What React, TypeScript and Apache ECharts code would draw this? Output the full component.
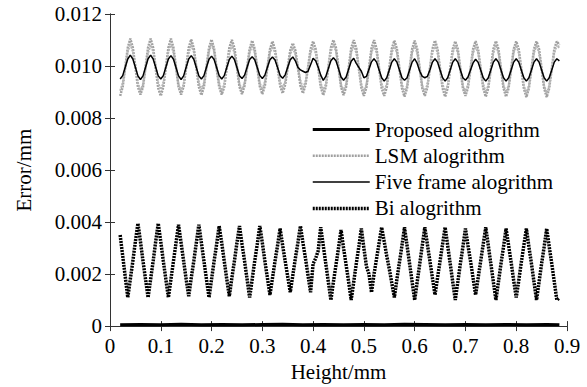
import React, { useEffect, useRef } from "react";
import * as echarts from "echarts";

// sample grid of the oscillating curves (mm)
const SAMPLE_START = 0.02;
const SAMPLE_STEP = 0.005;

// errors in micrometres (converted to mm for plotting)
const lsmUm = [
  8.85, 9.2, 9.95, 10.7, 11.05, 10.7, 9.95, 9.2,
  8.9, 9.2, 9.95, 10.72, 11.05, 10.7, 9.9, 9.15,
  8.85, 9.2, 9.95, 10.7, 11.05, 10.7, 9.95, 9.2,
  8.9, 9.22, 9.95, 10.7, 11.02, 10.68, 9.95, 9.2,
  8.88, 9.2, 9.95, 10.7, 11.02, 10.66, 9.9, 9.2,
  8.9, 9.2, 9.95, 10.7, 11.0, 10.7, 9.95, 9.2,
  8.92, 9.25, 9.95, 10.66, 10.98, 10.65, 9.95, 9.22,
  8.92, 9.25, 9.95, 10.64, 10.95, 10.62, 9.95, 9.25,
  8.95, 9.28, 9.95, 10.6, 10.88, 10.6, 9.95, 9.25,
  8.95, 9.28, 9.95, 10.65, 10.95, 10.65, 9.95, 9.2,
  8.88, 9.2, 9.95, 10.7, 11.0, 10.7, 9.95, 9.2,
  8.88, 9.2, 9.92, 10.68, 11.0, 10.68, 9.92, 9.18,
  8.85, 9.18, 9.92, 10.68, 11.0, 10.66, 9.9, 9.15,
  8.85, 9.18, 9.92, 10.66, 10.98, 10.66, 9.9, 9.15,
  8.82, 9.15, 9.9, 10.65, 10.98, 10.65, 9.9, 9.15,
  8.85, 9.18, 9.9, 10.65, 10.98, 10.66, 9.9, 9.15,
  8.82, 9.15, 9.9, 10.65, 10.95, 10.65, 9.9, 9.15,
  8.85, 9.18, 9.9, 10.65, 10.96, 10.64, 9.9, 9.15,
  8.82, 9.15, 9.9, 10.65, 10.96, 10.65, 9.9, 9.15,
  8.82, 9.15, 9.9, 10.65, 10.95, 10.64, 9.9, 9.15,
  8.8, 9.15, 9.9, 10.65, 10.95, 10.65, 9.9, 9.15,
  8.8, 9.15, 9.9, 10.65, 10.95, 10.8,
];

// a second LSM run (the grey band is several overlapping runs)
const lsmRun2Um = [
  9.05, 9.35, 9.9, 10.55, 10.85, 10.55, 10.0, 9.35,
  9.05, 9.3, 9.9, 10.5, 10.8, 10.55, 10.0, 9.35,
  9.1, 9.35, 9.9, 10.55, 10.85, 10.5, 9.95, 9.3,
  9.05, 9.3, 9.9, 10.5, 10.8, 10.55, 10.0, 9.35,
  9.1, 9.35, 9.95, 10.55, 10.85, 10.55, 9.95, 9.35,
  9.05, 9.3, 9.9, 10.5, 10.8, 10.5, 10.0, 9.3,
  9.1, 9.35, 9.9, 10.5, 10.8, 10.5, 9.95, 9.35,
  9.1, 9.4, 9.95, 10.5, 10.75, 10.5, 10.0, 9.4,
  9.15, 9.4, 9.95, 10.45, 10.7, 10.45, 10.0, 9.45,
  9.15, 9.4, 9.9, 10.5, 10.75, 10.5, 9.95, 9.35,
  9.05, 9.3, 9.9, 10.55, 10.85, 10.55, 9.95, 9.3,
  9.05, 9.3, 9.9, 10.5, 10.8, 10.5, 9.95, 9.3,
  9.0, 9.3, 9.9, 10.5, 10.8, 10.5, 9.9, 9.3,
  9.05, 9.3, 9.9, 10.5, 10.8, 10.5, 9.95, 9.3,
  9.0, 9.25, 9.85, 10.5, 10.8, 10.5, 9.9, 9.25,
  9.0, 9.3, 9.9, 10.5, 10.8, 10.5, 9.9, 9.3,
  9.0, 9.25, 9.85, 10.5, 10.8, 10.5, 9.9, 9.25,
  9.0, 9.3, 9.9, 10.5, 10.75, 10.5, 9.9, 9.3,
  9.0, 9.25, 9.85, 10.5, 10.8, 10.5, 9.9, 9.25,
  9.0, 9.25, 9.85, 10.5, 10.8, 10.5, 9.9, 9.25,
  8.95, 9.25, 9.85, 10.5, 10.8, 10.5, 9.9, 9.25,
  8.95, 9.25, 9.85, 10.5, 10.8, 10.7,
];

const fiveFrameUm = [
  9.5, 9.63, 9.95, 10.27, 10.42, 10.27, 9.95, 9.62,
  9.48, 9.62, 9.95, 10.28, 10.42, 10.27, 9.95, 9.62,
  9.5, 9.63, 9.95, 10.27, 10.4, 10.26, 9.94, 9.62,
  9.48, 9.62, 9.95, 10.27, 10.4, 10.26, 9.94, 9.62,
  9.5, 9.63, 9.95, 10.26, 10.38, 10.25, 9.94, 9.63,
  9.5, 9.63, 9.94, 10.25, 10.38, 10.25, 9.94, 9.63,
  9.52, 9.65, 9.95, 10.25, 10.36, 10.24, 9.94, 9.64,
  9.52, 9.65, 9.95, 10.24, 10.35, 10.23, 9.94, 9.64,
  9.53, 9.66, 9.95, 10.24, 10.35, 10.2, 9.95, 9.85,
  9.8, 9.75, 9.8, 10.05, 10.3, 10.2, 9.95, 9.65,
  9.45, 9.6, 9.9, 10.2, 10.32, 10.2, 9.9, 9.58,
  9.45, 9.58, 9.88, 10.18, 10.3, 10.1, 9.95, 9.8,
  9.55, 9.6, 9.88, 10.16, 10.28, 10.15, 9.85, 9.55,
  9.42, 9.55, 9.85, 10.15, 10.28, 10.15, 9.85, 9.55,
  9.45, 9.55, 9.85, 10.15, 10.28, 10.1, 9.8, 9.6,
  9.55, 9.6, 9.85, 10.15, 10.28, 10.15, 9.85, 9.55,
  9.42, 9.55, 9.85, 10.15, 10.28, 10.15, 9.85, 9.55,
  9.45, 9.58, 9.85, 10.12, 10.26, 10.14, 9.85, 9.55,
  9.42, 9.55, 9.85, 10.15, 10.28, 10.15, 9.85, 9.55,
  9.42, 9.55, 9.85, 10.15, 10.28, 10.15, 9.85, 9.55,
  9.42, 9.55, 9.85, 10.15, 10.28, 10.15, 9.85, 9.55,
  9.42, 9.55, 9.85, 10.15, 10.28, 10.2,
];

const biUm = [
  3.5, 2.7, 1.9, 1.1, 1.8, 2.5, 3.25, 3.95,
  3.25, 2.5, 1.8, 1.1, 1.8, 2.5, 3.25, 3.95,
  3.25, 2.5, 1.8, 1.1, 1.8, 2.5, 3.2, 3.9,
  3.2, 2.5, 1.8, 1.15, 1.85, 2.5, 3.2, 3.9,
  3.2, 2.5, 1.8, 1.1, 1.8, 2.5, 3.15, 3.85,
  3.2, 2.5, 1.8, 1.15, 1.85, 2.5, 3.2, 3.85,
  3.15, 2.5, 1.8, 1.1, 1.8, 2.5, 3.15, 3.85,
  3.2, 2.5, 1.85, 1.2, 1.85, 2.5, 3.1, 3.75,
  3.1, 2.5, 1.9, 1.3, 1.95, 2.6, 3.2, 3.85,
  3.2, 2.6, 1.95, 1.3, 2.4, 2.6, 2.9, 3.8,
  3.1, 2.4, 1.7, 1.0, 1.7, 2.35, 3.0, 3.7,
  3.0, 2.35, 1.7, 1.0, 1.7, 2.4, 3.05, 3.75,
  3.0, 2.3, 2.0, 1.3, 2.0, 2.6, 3.2, 3.8,
  3.25, 2.7, 2.2, 1.65, 1.1, 1.8, 2.45, 3.1,
  3.8, 3.1, 2.4, 1.7, 1.0, 1.7, 2.4, 3.1,
  3.8, 3.15, 2.5, 1.85, 1.2, 1.85, 2.5, 3.15,
  3.8, 3.1, 2.4, 1.7, 1.0, 1.7, 2.4, 3.05,
  3.75, 3.1, 2.5, 1.85, 1.2, 1.85, 2.5, 3.15,
  3.8, 3.1, 2.4, 1.7, 1.0, 1.7, 2.4, 3.05,
  3.75, 3.1, 2.45, 1.75, 1.1, 1.75, 2.45, 3.1,
  3.75, 3.05, 2.4, 1.7, 1.0, 1.7, 2.4, 3.05,
  3.75, 3.05, 2.4, 1.7, 1.0, 1.1,
];

const proposedHeights = [
  0.02, 0.06, 0.1, 0.14, 0.18, 0.22, 0.26, 0.3, 0.34, 0.38, 0.42, 0.46,
  0.5, 0.54, 0.58, 0.62, 0.66, 0.7, 0.74, 0.78, 0.82, 0.86, 0.885,
];
const proposedUm = [
  0.05, 0.06, 0.05, 0.07, 0.05, 0.06, 0.05, 0.06, 0.07, 0.05, 0.06, 0.05,
  0.06, 0.05, 0.07, 0.06, 0.05, 0.06, 0.05, 0.06, 0.05, 0.06, 0.05,
];

const legendNames = ["Proposed alogrithm", "LSM alogrithm", "Five frame alogrithm", "Bi alogrithm"];

const xTicks = { min: 0, max: 0.9, interval: 0.1 };
const yTicks = { min: 0, max: 0.012, interval: 0.002 };

const FONT = "'Liberation Serif', 'Times New Roman', serif";
const FS = 21;

const toPairs = (vals: number[]) =>
  vals.map((v, i) => [
    Math.round((SAMPLE_START + i * SAMPLE_STEP) * 1000) / 1000,
    v / 1000,
  ]);

export default function App() {
  const ref = useRef<HTMLDivElement>(null);
  useEffect(() => {
    if (!ref.current) return;
    const chart = echarts.init(ref.current, undefined, { renderer: "svg" });
    const axisLine = { show: true, lineStyle: { color: "#333", width: 1 } };
    const tick = { show: true, inside: true, length: 5, lineStyle: { color: "#333" } };
    const grey = "#a0a0a0";
    chart.setOption({
      animation: false,
      backgroundColor: "#fff",
      textStyle: { fontFamily: FONT },
      grid: { left: 110, right: 20, top: 14, bottom: 58, containLabel: false },
      legend: {
        orient: "vertical",
        left: 311,
        top: 119,
        padding: 0,
        itemWidth: 57,
        itemHeight: 14,
        itemGap: 5.3,
        data: legendNames,
        itemStyle: { opacity: 0 },
        lineStyle: { width: "inherit" },
        textStyle: { fontFamily: FONT, fontSize: FS, color: "#000", lineHeight: 20 },
      },
      xAxis: [
        {
          type: "value",
          ...xTicks,
          position: "bottom",
          axisLine,
          axisTick: tick,
          splitLine: { show: false },
          axisLabel: {
            fontFamily: FONT,
            fontSize: FS,
            color: "#000",
            margin: 9,
            formatter: (v: number) => String(Math.round(v * 10) / 10),
          },
          name: "Height/mm",
          nameLocation: "middle",
          nameGap: 33,
          nameTextStyle: { fontFamily: FONT, fontSize: FS, color: "#000" },
        },
        {
          type: "value",
          ...xTicks,
          position: "top",
          axisLine,
          axisTick: tick,
          splitLine: { show: false },
          axisLabel: { show: false },
        },
      ],
      yAxis: [
        {
          type: "value",
          ...yTicks,
          position: "left",
          axisLine,
          axisTick: tick,
          splitLine: { show: false },
          axisLabel: {
            fontFamily: FONT,
            fontSize: FS,
            color: "#000",
            margin: 8,
            formatter: (v: number) => (v === 0 ? "0" : v.toFixed(3)),
          },
          name: "Error/mm",
          nameLocation: "middle",
          nameGap: 76,
          nameTextStyle: { fontFamily: FONT, fontSize: FS, color: "#000" },
        },
        {
          type: "value",
          ...yTicks,
          position: "right",
          axisLine,
          axisTick: tick,
          splitLine: { show: false },
          axisLabel: { show: false },
        },
      ],
      series: [
        {
          name: "LSM alogrithm",
          type: "line",
          symbol: "none",
          data: toPairs(lsmUm),
          lineStyle: { color: grey, width: 2.5, type: [2, 1] },
          itemStyle: { color: grey },
          z: 1,
        },
        {
          name: "LSM alogrithm",
          type: "line",
          symbol: "none",
          data: toPairs(lsmRun2Um),
          lineStyle: { color: "#b4b4b4", width: 2, type: [2, 1] },
          itemStyle: { color: "#b4b4b4" },
          z: 1,
        },
        {
          name: "Five frame alogrithm",
          type: "line",
          symbol: "none",
          data: toPairs(fiveFrameUm),
          lineStyle: { color: "#000", width: 1.5 },
          itemStyle: { color: "#000" },
          z: 2,
        },
        {
          name: "Bi alogrithm",
          type: "line",
          symbol: "none",
          data: toPairs(biUm),
          lineStyle: { color: "#000", width: 3.5, type: [2, 1] },
          itemStyle: { color: "#000" },
          z: 3,
        },
        {
          name: "Proposed alogrithm",
          type: "line",
          symbol: "none",
          data: proposedHeights.map((h, i) => [h, proposedUm[i] / 1000]),
          lineStyle: { color: "#000", width: 3 },
          itemStyle: { color: "#000" },
          z: 4,
        },
      ],
    });
    return () => chart.dispose();
  }, []);
  return (
    <div
      ref={ref}
      style={{ position: "fixed", left: 0, top: 0, width: 587, height: 387, background: "#fff" }}
    />
  );
}
